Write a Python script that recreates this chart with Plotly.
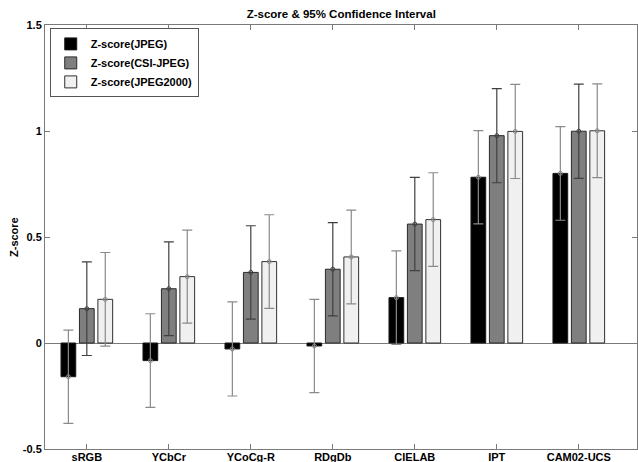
import plotly.graph_objects as go

categories = ["sRGB", "YCbCr", "YCoCg-R", "RDgDb", "CIELAB", "IPT", "CAM02-UCS"]
series_names = ["Z-score(JPEG)", "Z-score(CSI-JPEG)", "Z-score(JPEG2000)"]
z_jpeg = [-0.159, -0.083, -0.028, -0.014, 0.214, 0.782, 0.800]
z_csi = [0.162, 0.256, 0.333, 0.348, 0.561, 0.978, 0.999]
z_j2k = [0.206, 0.313, 0.384, 0.406, 0.582, 0.998, 1.001]
ci_jpeg = [0.220, 0.221, 0.222, 0.220, 0.221, 0.220, 0.221]
ci_csi = [0.221, 0.221, 0.220, 0.220, 0.220, 0.222, 0.222]
ci_j2k = [0.221, 0.219, 0.221, 0.221, 0.221, 0.222, 0.221]
y_ticks = [-0.5, 0, 0.5, 1, 1.5]
y_ticklabels = ["-0.5", "0", "0.5", "1", "1.5"]

fill_colors = ["#000000", "#7f7f7f", "#f0f0f0"]
err_colors = ["#8a8a8a", "#404040", "#8a8a8a"]
line_colors = ["#1a1a1a", "#2a2a2a", "#303030"]

font_family = "Liberation Sans, Arial, sans-serif"

fig = go.Figure()
for name, vals, errs, fc, ec, lc, grp in zip(
    series_names, [z_jpeg, z_csi, z_j2k], [ci_jpeg, ci_csi, ci_j2k],
    fill_colors, err_colors, line_colors, ["a", "b", "c"]):
    fig.add_trace(go.Bar(
        x=categories, y=vals, name=name, offsetgroup=grp,
        marker=dict(color=fc, line=dict(color=lc, width=1)),
        error_y=dict(type="data", array=errs, visible=True, color=ec,
                     thickness=1.2, width=5),
    ))
for vals, ec, grp in zip([z_jpeg, z_csi, z_j2k], err_colors, ["a", "b", "c"]):
    fig.add_trace(go.Scatter(
        x=categories, y=vals, mode="markers", offsetgroup=grp, showlegend=False,
        marker=dict(symbol="circle-open", size=4, color=ec, line=dict(width=1, color=ec)),
        hoverinfo="skip",
    ))

fig.update_layout(
    width=638, height=462,
    template="none",
    paper_bgcolor="white", plot_bgcolor="white",
    margin=dict(l=45, r=1, t=25, b=13, pad=0),
    barmode="group", bargap=0.325, bargroupgap=0.2,
    scattermode="group", scattergap=0.325,
    font=dict(family=font_family, size=11, color="black"),
    title=dict(text="<b>Z-score & 95% Confidence Interval</b>", x=0.5349, xanchor="center",
               y=0.97, yanchor="middle", font=dict(size=11.5, family=font_family, color="black")),
    legend=dict(x=0.008, y=0.992, xanchor="left", yanchor="top",
                bgcolor="white", bordercolor="#555555", borderwidth=1,
                font=dict(size=11, family=font_family, weight="bold"),
                tracegroupgap=0, itemwidth=30),
    showlegend=True,
    annotations=[dict(text="<b>Z-score</b>", xref="paper", yref="paper", x=0, y=0.5,
                      xanchor="center", yanchor="middle", xshift=-31, textangle=-90,
                      showarrow=False, font=dict(size=11, family=font_family, color="black"))],
)
fig.update_xaxes(
    type="category", range=[-0.51, 6.71], automargin=False,
    showline=True, linecolor="#7a7a7a", linewidth=1, mirror="ticks",
    ticks="inside", ticklen=5, tickcolor="#7a7a7a", ticklabelstandoff=-2,
    tickfont=dict(size=11, family=font_family, weight="bold"),
    showgrid=False, zeroline=False,
)
fig.update_yaxes(
    range=[-0.5, 1.5], automargin=False,
    tickvals=y_ticks, ticktext=y_ticklabels,
    showline=True, linecolor="#7a7a7a", linewidth=1, mirror="ticks",
    ticks="inside", ticklen=5, tickcolor="#7a7a7a",
    tickfont=dict(size=11, family=font_family, weight="bold"),
    showgrid=False, zeroline=True, zerolinecolor="#7a7a7a", zerolinewidth=1,
)
fig.write_html("out.html", config={"displayModeBar": False},
               post_script="document.body.style.margin='0px';")
